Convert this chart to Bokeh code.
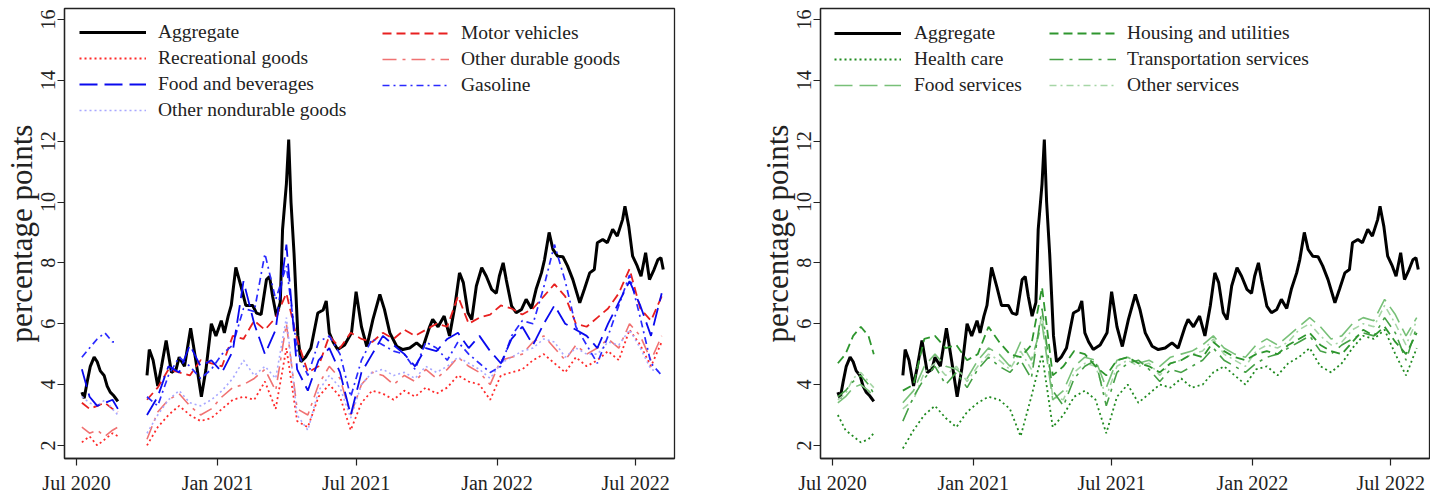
import math
from bokeh.plotting import figure
from bokeh.models import Range1d, FixedTicker, Legend, LegendItem
from bokeh.layouts import row
from bokeh.embed import file_html
from bokeh.resources import INLINE

# ---------------- data (x = days since 1 Jul 2020) ----------------
tick_days = [0, 184, 365, 549, 730]
tick_labels = ["Jul 2020", "Jan 2021", "Jul 2021", "Jan 2022", "Jul 2022"]
y_ticks = [2, 4, 6, 8, 10, 12, 14, 16]

agg_days_1 = [7, 10, 14, 18, 23, 27, 31, 36, 40, 44, 48, 51, 54]
agg_vals_1 = [3.75, 3.55, 4.1, 4.6, 4.9, 4.75, 4.45, 4.3, 3.95, 3.75, 3.65, 3.55, 3.45]
agg_days_2 = [92, 95, 100, 106, 111, 117, 124, 130, 134, 141, 149, 156, 163, 169, 176, 182, 189, 193, 198, 202,
              208, 215, 221, 230, 235, 241, 248, 252, 256, 261, 266, 269, 274, 277, 280, 284, 289, 293, 299, 306,
              315, 322, 326, 330, 335, 341, 350, 359, 365, 372, 379, 387, 396, 402, 409, 418, 426, 435, 444, 452,
              461, 465, 472, 480, 487, 494, 500, 505, 511, 516, 522, 529, 535, 542, 548, 552, 557, 561, 568, 574,
              581, 587, 594, 600, 607, 611, 617, 622, 628, 635, 641, 648, 657, 663, 670, 676, 680, 687, 693, 700,
              706, 713, 716, 721, 726, 732, 737, 743, 748, 754, 759, 763, 766]
agg_vals_2 = [4.3, 5.15, 4.8, 3.95, 4.6, 5.45, 4.4, 4.5, 4.9, 4.6, 5.85, 4.75, 3.6, 4.5, 6.0, 5.6, 6.1, 5.7, 6.25, 6.6,
              7.85, 7.2, 6.6, 6.6, 6.35, 6.3, 7.45, 7.55, 6.9, 6.25, 6.7, 9.1, 10.6, 12.05, 10.0, 8.3, 5.6, 4.75, 4.9, 5.2,
              6.35, 6.45, 6.75, 5.7, 5.4, 5.15, 5.3, 5.7, 7.05, 5.9, 5.25, 6.14, 6.96, 6.47, 5.7, 5.26, 5.15, 5.2, 5.37, 5.2,
              5.9, 6.14, 5.9, 6.25, 5.6, 6.58, 7.67, 7.35, 6.36, 6.14, 7.24, 7.84, 7.56, 7.13, 7.0, 7.56, 8.0, 7.45, 6.58, 6.36,
              6.47, 6.8, 6.5, 7.13, 7.67, 8.1, 9.0, 8.44, 8.22, 8.2, 7.9, 7.45, 6.69, 7.13, 7.67, 7.78, 8.66, 8.77, 8.66, 9.1,
              8.88, 9.43, 9.86, 9.2, 8.22, 7.9, 7.56, 8.33, 7.45, 7.78, 8.1, 8.17, 7.78]

days_1 = [7, 17, 27, 37, 47, 54]
days_2 = [92, 106, 120, 134, 148, 162, 176, 190, 204, 218, 232, 246, 260, 274, 288, 302, 316, 330, 344, 358,
          372, 386, 400, 414, 428, 442, 456, 470, 484, 498, 512, 526, 540, 554, 568, 582, 596, 610, 624, 638,
          652, 666, 680, 694, 708, 722, 736, 750, 764]

# goods
recreational_1 = [2.1, 2.3, 2.0, 2.2, 2.4, 2.3]
recreational_2 = [2.0, 2.6, 3.0, 3.3, 3.0, 2.8, 2.9, 3.2, 3.5, 3.6, 3.5, 4.1, 3.2, 5.2, 2.8, 2.6, 3.6, 4.0, 3.6, 2.5,
                  3.4, 3.8, 3.7, 3.5, 3.8, 3.6, 3.9, 3.7, 3.9, 4.3, 4.1, 4.0, 3.5, 4.3, 4.4, 4.5, 4.8, 5.0, 4.7, 4.4,
                  4.9, 4.6, 4.8, 5.1, 4.8, 5.8, 5.3, 4.6, 5.4]
motor_1 = [3.4, 3.2, 3.3, 3.4, 3.2, 3.1]
motor_2 = [3.5, 3.9, 4.5, 4.4, 4.3, 4.8, 4.7, 4.6, 5.6, 5.5, 6.1, 5.8, 6.2, 7.0, 5.5, 4.4, 4.6, 5.6, 5.2, 5.7,
           5.5, 5.4, 5.7, 5.5, 5.8, 5.6, 5.8, 6.0, 5.9, 6.9, 6.0, 6.2, 6.3, 6.6, 6.5, 6.3, 6.5, 6.9, 7.3, 6.9,
           6.0, 5.9, 6.2, 6.5, 7.0, 7.8, 6.5, 6.1, 6.9]
food_bev_1 = [4.5, 3.6, 3.3, 3.4, 3.5, 3.2]
food_bev_2 = [3.0, 3.6, 4.6, 4.4, 5.3, 4.6, 4.8, 4.4, 5.1, 7.4, 6.0, 5.0, 5.8, 8.6, 4.5, 3.8, 4.8, 5.2, 4.4, 3.0,
              4.4, 5.0, 5.6, 5.3, 5.0, 4.6, 5.2, 5.1, 5.5, 5.7, 5.2, 5.6, 5.1, 4.7, 5.5, 5.9, 5.3, 6.0, 6.6, 6.0,
              5.8, 5.6, 5.2, 6.0, 6.7, 7.4, 6.6, 5.6, 7.0]
other_durable_1 = [2.6, 2.4, 2.5, 2.3, 2.5, 2.6]
other_durable_2 = [2.2, 3.1, 3.5, 3.7, 3.3, 3.0, 3.2, 3.6, 3.9, 4.0, 4.2, 4.5, 3.8, 6.0, 3.2, 3.0, 4.0, 4.6, 4.2, 3.0,
                   4.0, 4.4, 4.3, 4.0, 4.3, 4.1, 4.5, 4.2, 4.5, 4.9, 4.6, 4.4, 4.0, 4.8, 4.9, 5.0, 5.4, 5.6, 5.2, 4.8,
                   5.3, 5.0, 5.2, 5.5, 5.2, 6.0, 5.6, 4.8, 5.6]
gasoline_1 = [4.9, 5.2, 5.5, 5.7, 5.4, 5.4]
gasoline_2 = [3.6, 3.3, 4.3, 4.9, 4.6, 4.2, 4.5, 5.0, 5.3, 6.5, 6.4, 8.3, 6.8, 7.9, 5.1, 4.3, 5.4, 5.6, 5.0, 3.6,
              4.8, 5.5, 5.3, 5.1, 5.0, 4.5, 5.4, 5.2, 4.8, 5.4, 5.0, 4.7, 4.4, 4.6, 5.6, 6.1, 6.0, 7.2, 8.6, 7.4,
              5.9, 5.3, 4.7, 5.6, 6.6, 7.6, 6.2, 4.7, 4.3]
other_nondur_1 = [3.6, 3.4, 3.3, 3.5, 3.2, 3.0]
other_nondur_2 = [2.4, 3.0, 3.5, 3.8, 3.4, 3.3, 3.5, 3.8, 4.2, 4.8, 4.3, 4.6, 4.2, 6.2, 3.0, 2.5, 3.8, 4.3, 3.9, 2.9,
                  4.0, 4.4, 4.5, 4.3, 4.4, 4.2, 4.6, 4.4, 4.6, 4.9, 4.7, 4.5, 4.2, 4.7, 4.9, 5.1, 5.2, 5.5, 5.4, 4.9,
                  5.2, 5.0, 5.0, 5.4, 5.3, 5.8, 5.2, 4.5, 4.4]

# services
housing_1 = [4.7, 5.0, 5.6, 5.9, 5.6, 5.0]
housing_2 = [3.8, 4.0, 5.5, 5.6, 5.2, 5.3, 4.8, 5.0, 5.9, 5.4, 5.0, 4.9, 5.3, 7.2, 4.3, 4.6, 5.1, 5.0, 4.6, 4.3,
             4.8, 4.9, 4.7, 4.6, 4.4, 4.7, 4.8, 5.0, 4.9, 5.4, 5.1, 4.9, 4.8, 5.0, 5.1, 5.0, 5.3, 5.5, 5.7, 5.3,
             5.1, 5.0, 5.4, 5.8, 5.6, 5.9, 5.4, 5.0, 5.7]
health_1 = [3.0, 2.5, 2.3, 2.1, 2.2, 2.4]
health_2 = [1.9, 2.5, 3.0, 3.3, 2.9, 2.6, 3.1, 3.4, 3.6, 3.5, 3.2, 2.3, 3.6, 5.0, 2.6, 3.0, 3.6, 3.8, 3.5, 2.4,
            3.6, 4.0, 3.4, 3.7, 4.0, 3.9, 4.2, 3.9, 4.0, 4.4, 4.6, 4.3, 4.0, 4.5, 4.6, 4.3, 4.7, 4.9, 5.2, 4.6,
            4.4, 4.7, 5.2, 5.6, 5.5, 5.8, 5.0, 4.3, 5.2]
transport_1 = [3.6, 3.8, 4.1, 4.3, 4.0, 3.7]
transport_2 = [2.8, 3.6, 4.2, 4.6, 4.0, 4.4, 3.9, 4.5, 4.9, 4.6, 4.4, 4.8, 4.2, 6.5, 3.8, 3.3, 4.2, 4.6, 4.8, 3.3,
               4.4, 4.7, 4.8, 4.5, 4.1, 4.5, 4.4, 4.6, 4.8, 5.2, 4.8, 4.6, 4.4, 4.7, 4.9, 5.0, 5.2, 5.4, 5.6, 5.1,
               5.0, 5.3, 5.5, 5.7, 5.6, 6.2, 5.7, 4.8, 5.9]
food_serv_1 = [3.4, 3.6, 3.9, 4.0, 3.8, 3.6]
food_serv_2 = [3.4, 3.8, 4.6, 5.0, 4.6, 4.5, 4.2, 4.8, 5.2, 5.0, 4.6, 5.4, 4.8, 6.0, 3.5, 3.8, 4.6, 4.9, 4.8, 3.9,
               4.8, 4.9, 4.7, 4.8, 4.6, 4.9, 5.0, 5.1, 5.3, 5.6, 5.2, 5.0, 4.9, 5.3, 5.5, 5.3, 5.6, 5.9, 6.2, 5.9,
               5.5, 5.6, 6.0, 6.2, 6.1, 6.8, 6.3, 5.6, 6.2]
other_serv_1 = [3.5, 3.7, 4.2, 4.4, 4.1, 3.9]
other_serv_2 = [3.2, 3.5, 4.4, 4.7, 4.3, 4.6, 4.1, 4.6, 5.0, 4.8, 4.5, 5.1, 4.5, 6.3, 3.6, 3.5, 4.4, 4.7, 4.6, 3.6,
                4.6, 4.8, 4.6, 4.7, 4.3, 4.7, 4.8, 5.0, 5.1, 5.5, 5.0, 4.8, 4.6, 5.1, 5.3, 5.2, 5.4, 5.8, 6.0, 5.6,
                5.3, 5.4, 5.8, 6.0, 5.9, 6.6, 6.0, 5.3, 6.1]

# ---------------- helpers ----------------
FONT = "Liberation Serif"
GAP = 70
NAN = float("nan")


def joined(a, b):
    return list(a) + [NAN] + list(b)


agg_x = joined(agg_days_1, agg_days_2)
agg_y = joined(agg_vals_1, agg_vals_2)
ser_x = joined(days_1, days_2)
agg_x[len(agg_days_1)] = GAP
ser_x[len(days_1)] = GAP


def make_fig(border_left, border_right, fw):
    p = figure(frame_width=fw, frame_height=450, output_backend="svg", toolbar_location=None,
               min_border_left=border_left, min_border_right=border_right,
               min_border_top=8, min_border_bottom=30,
               x_range=Range1d(-15.7, 780.7), y_range=Range1d(1.57, 16.36))
    p.grid.visible = False
    p.outline_line_color = "#222222"
    p.outline_line_width = 1.3
    p.background_fill_color = "white"
    p.border_fill_color = "white"
    for ax in (p.xaxis[0], p.yaxis[0]):
        ax.axis_line_color = "#222222"
        ax.axis_line_width = 1.3
        ax.major_tick_line_color = "#222222"
        ax.major_tick_line_width = 1.2
        ax.major_tick_out = 7
        ax.major_tick_in = 0
        ax.minor_tick_line_color = None
        ax.major_label_text_font = FONT
        ax.major_label_text_font_size = "20px"
        ax.major_label_text_color = "#222222"
    p.xaxis.ticker = FixedTicker(ticks=tick_days)
    p.xaxis.major_label_overrides = {d: lab for d, lab in zip(tick_days, tick_labels)}
    p.xaxis.major_label_standoff = 6
    p.yaxis.ticker = FixedTicker(ticks=y_ticks)
    p.yaxis.major_label_orientation = "vertical"
    p.yaxis.major_label_standoff = 2
    p.yaxis.axis_label = "percentage points"
    p.yaxis.axis_label_text_font = FONT
    p.yaxis.axis_label_text_font_size = "31px"
    p.yaxis.axis_label_text_font_style = "normal"
    p.yaxis.axis_label_text_color = "#222222"
    p.yaxis.axis_label_standoff = 0
    return p


def add_legend(p, items, x, y, standoff):
    leg = Legend(items=[LegendItem(label=l, renderers=[r]) for l, r in items], location=(x, y))
    leg.border_line_color = None
    leg.background_fill_alpha = 0
    leg.padding = 0
    leg.margin = 0
    leg.spacing = 4
    leg.label_height = 20
    leg.glyph_height = 20
    leg.glyph_width = 67
    leg.label_standoff = standoff
    leg.label_text_font = FONT
    leg.label_text_font_size = "19.5px"
    leg.label_text_color = "#222222"
    p.add_layout(leg)


# ---------------- left panel: goods ----------------
p1 = make_fig(63, 73, 610)
a1 = p1.line(agg_x, agg_y, line_color="black", line_width=3)
r_rec = p1.line(ser_x, joined(recreational_1, recreational_2), line_color="#ff2a2a", line_width=1.8, line_dash="2 3")
r_mot = p1.line(ser_x, joined(motor_1, motor_2), line_color="#e82020", line_width=1.8, line_dash="9 5")
r_odu = p1.line(ser_x, joined(other_durable_1, other_durable_2), line_color="#f07272", line_width=1.6, line_dash="14 6 3 6")
r_onr = p1.line(ser_x, joined(other_nondur_1, other_nondur_2), line_color="#a8a8ff", line_width=1.6, line_dash="2 3")
r_gas = p1.line(ser_x, joined(gasoline_1, gasoline_2), line_color="#2a2aff", line_width=1.7, line_dash="7 4 2 4")
r_fbv = p1.line(ser_x, joined(food_bev_1, food_bev_2), line_color="#0a0aee", line_width=1.8, line_dash="18 7")

add_legend(p1, [("Aggregate", a1), ("Recreational goods", r_rec), ("Food and beverages", r_fbv),
                ("Other nondurable goods", r_onr)], 15, 337, 12)
add_legend(p1, [("Motor vehicles", r_mot), ("Other durable goods", r_odu), ("Gasoline", r_gas)], 318, 362, 12)

# ---------------- right panel: services ----------------
p2 = make_fig(73, 1, 609)
a2 = p2.line(agg_x, agg_y, line_color="black", line_width=3)
r_hc = p2.line(ser_x, joined(health_1, health_2), line_color="#1f8a1f", line_width=1.8, line_dash="2 3")
r_os = p2.line(ser_x, joined(other_serv_1, other_serv_2), line_color="#a6d6a6", line_width=1.6, line_dash="7 4 2 4")
r_fs = p2.line(ser_x, joined(food_serv_1, food_serv_2), line_color="#78c078", line_width=1.6, line_dash="18 7")
r_ts = p2.line(ser_x, joined(transport_1, transport_2), line_color="#45a045", line_width=1.6, line_dash="14 6 3 6")
r_hu = p2.line(ser_x, joined(housing_1, housing_2), line_color="#2e962e", line_width=1.8, line_dash="9 5")

add_legend(p2, [("Aggregate", a2), ("Health care", r_hc), ("Food services", r_fs)], 14, 362, 13)
add_legend(p2, [("Housing and utilities", r_hu), ("Transportation services", r_ts), ("Other services", r_os)],
           229, 362, 11)

layout = row(p1, p2)
open("out.html", "w").write(file_html(layout, INLINE))
